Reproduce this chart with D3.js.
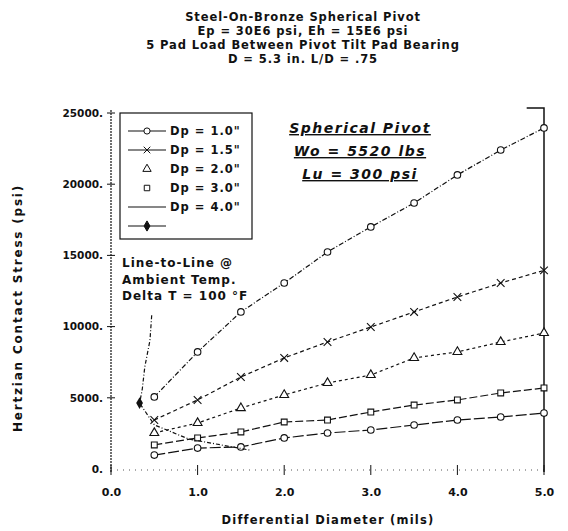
<!DOCTYPE html>
<html>
<head>
<meta charset="utf-8">
<script src="https://cdn.jsdelivr.net/npm/d3@7"></script>
<style>
	body { margin: 0; background: #fff; }
	svg { font-family: 'DejaVu Sans', Arial, sans-serif; }
</style>
</head>
<body>
<svg id="chart"></svg>
<script>
// ========== DATA ==========
var diffDiameter = [0.5, 1.0, 1.5, 2.0, 2.5, 3.0, 3.5, 4.0, 4.5, 5.0];
var stressDp10 = [5060, 8220, 11030, 13060, 15240, 17000, 18680, 20650, 22400, 23950];
var stressDp15 = [3440, 4850, 6460, 7800, 8920, 9970, 11030, 12080, 13060, 13950];
var stressDp20 = [2530, 3230, 4280, 5200, 6040, 6600, 7800, 8220, 8920, 9550];
var stressDp30 = [1690, 2180, 2600, 3300, 3440, 4000, 4490, 4850, 5340, 5690];
var stressDp40 = [980, 1470, 1550, 2180, 2530, 2740, 3090, 3440, 3650, 3930];
var lineToLineX = [0.47, 0.45, 0.39, 0.36, 0.33, 0.5, 0.9, 1.6];
var lineToLineY = [10800, 9040, 7160, 5550, 4630, 3100, 2100, 1330];
var legendLabels = ['Dp = 1.0"', 'Dp = 1.5"', 'Dp = 2.0"', 'Dp = 3.0"', 'Dp = 4.0"', ''];
var yTicks = [0, 5000, 10000, 15000, 20000, 25000];
var xTicks = [0, 1, 2, 3, 4, 5];
var titleLines = [
	'Steel-On-Bronze Spherical Pivot',
	'Ep = 30E6 psi, Eh = 15E6 psi',
	'5 Pad Load Between Pivot Tilt Pad Bearing',
	'D = 5.3 in. L/D = .75'
];
var noteLines = ['Spherical Pivot', 'Wo = 5520 lbs', 'Lu = 300 psi'];
var lineNote = ['Line-to-Line @', 'Ambient Temp.', 'Delta T = 100 °F'];

// ========== CHART ==========
var width = 568, height = 531;
var ink = '#111';
var font = "'DejaVu Sans', Arial, sans-serif";
var symbolTimes = d3.symbolTimes || d3.symbolX;

var svg = d3.select('#chart')
	.attr('width', width)
	.attr('height', height);

var x = d3.scaleLinear().domain([0, 5]).range([111, 544]);
var y = d3.scaleLinear().domain([0, 25000]).range([469, 113]);

// title
svg.selectAll('.title')
	.data(titleLines).enter().append('text')
		.attr('class', 'title')
		.attr('x', 303)
		.attr('y', function(d, i) { return 21 + i * 14; })
		.attr('text-anchor', 'middle')
		.attr('font-size', 11.5)
		.attr('letter-spacing', 0.9)
		.attr('font-weight', 'bold')
		.attr('fill', ink)
		.text(function(d) { return d; });

// left axis
var yAxis = svg.append('g')
	.attr('transform', 'translate(111,0)')
	.call(d3.axisLeft(y).tickValues(yTicks).tickSize(0).tickPadding(8)
		.tickFormat(function(d) { return d + '.'; }));
yAxis.select('.domain').remove();
yAxis.selectAll('text')
	.attr('font-size', 10.5)
	.attr('font-weight', 'bold')
	.attr('fill', ink)
	.attr('font-family', font);
svg.append('line')
	.attr('x1', 111).attr('x2', 111)
	.attr('y1', 110).attr('y2', 472)
	.attr('stroke', ink).attr('stroke-width', 1.2)
	.style('stroke-dasharray', '2,1');
svg.selectAll('.ytick')
	.data(yTicks.slice(1)).enter().append('line')
		.attr('class', 'ytick')
		.attr('x1', 107).attr('x2', 115)
		.attr('y1', function(d) { return y(d); })
		.attr('y2', function(d) { return y(d); })
		.attr('stroke', ink);

// bottom axis
var xAxis = svg.append('g')
	.attr('transform', 'translate(0,470)')
	.call(d3.axisBottom(x).tickValues(xTicks).tickSize(0).tickPadding(18)
		.tickFormat(d3.format('.1f')));
xAxis.select('.domain').remove();
xAxis.selectAll('text')
	.attr('font-size', 11)
	.attr('font-weight', 'bold')
	.attr('fill', ink)
	.attr('font-family', font);
svg.append('line')
	.attr('x1', x(0)).attr('x2', x(5))
	.attr('y1', 470).attr('y2', 470)
	.attr('stroke', '#555').attr('stroke-width', 1)
	.style('stroke-dasharray', '1,5');
svg.selectAll('.xtick')
	.data(xTicks).enter().append('line')
		.attr('class', 'xtick')
		.attr('x1', function(d) { return x(d); })
		.attr('x2', function(d) { return x(d); })
		.attr('y1', 465).attr('y2', 475)
		.attr('stroke', ink);

// right frame
svg.append('path')
	.attr('d', d3.line()([[x(4.8), 108], [x(5), 108], [x(5), 472]]))
	.attr('fill', 'none')
	.attr('stroke', ink).attr('stroke-width', 1.5);

// axis titles
svg.append('text')
	.attr('transform', 'translate(22,308)rotate(-90)')
	.attr('text-anchor', 'middle')
	.attr('font-size', 12)
	.attr('letter-spacing', 1.8)
	.attr('font-weight', 'bold')
	.attr('fill', ink)
	.text('Hertzian Contact Stress (psi)');
svg.append('text')
	.attr('x', 328).attr('y', 524)
	.attr('text-anchor', 'middle')
	.attr('font-size', 11.5)
	.attr('letter-spacing', 1.2)
	.attr('font-weight', 'bold')
	.attr('fill', ink)
	.text('Differential Diameter (mils)');

// series
var series = [
	{ values: stressDp10, dash: '5,2,1,2', symbol: d3.symbolCircle },
	{ values: stressDp15, dash: '4,3', symbol: symbolTimes },
	{ values: stressDp20, dash: '3,3', symbol: d3.symbolTriangle },
	{ values: stressDp30, dash: '8,3', symbol: d3.symbolSquare },
	{ values: stressDp40, dash: '11,3', symbol: d3.symbolCircle }
];

var line = d3.line()
	.x(function(d) { return x(d[0]); })
	.y(function(d) { return y(d[1]); });

series.forEach(function(s) {
	var pts = diffDiameter.map(function(d, i) { return [d, s.values[i]]; });
	svg.append('path')
		.attr('d', line(pts))
		.attr('fill', 'none')
		.attr('stroke', ink)
		.attr('stroke-width', 1.2)
		.style('stroke-dasharray', s.dash);
	svg.selectAll(null)
		.data(pts).enter().append('path')
			.attr('d', d3.symbol().type(s.symbol).size(s.symbol === symbolTimes ? 40 : 34))
			.attr('transform', function(d) {
				return 'translate(' + x(d[0]) + ',' + y(d[1]) + ')';
			})
			.attr('fill', s.symbol === symbolTimes ? 'none' : '#fff')
			.attr('stroke', ink)
			.attr('stroke-width', 1.1);
});

// line-to-line curve
var ltl = lineToLineX.map(function(d, i) { return [d, lineToLineY[i]]; });
svg.append('path')
	.attr('d', line(ltl))
	.attr('fill', 'none')
	.attr('stroke', ink)
	.attr('stroke-width', 1.2)
	.style('stroke-dasharray', '4,2,1,2');
svg.append('path')
	.attr('d', d3.symbol().type(d3.symbolDiamond).size(40))
	.attr('transform', 'translate(' + x(lineToLineX[4]) + ',' + y(lineToLineY[4]) + ')')
	.attr('fill', ink);

// legend
var legend = svg.append('g');
legend.append('rect')
	.attr('x', 120).attr('y', 113)
	.attr('width', 132).attr('height', 126)
	.attr('fill', '#fff')
	.attr('stroke', ink).attr('stroke-width', 1.2);

var legendSymbols = [d3.symbolCircle, symbolTimes, d3.symbolTriangle, d3.symbolSquare, null, d3.symbolDiamond];
var legendHasLine = [true, true, false, false, true, true];

legendLabels.forEach(function(label, i) {
	var ly = 131 + i * 19;
	if (legendHasLine[i]) {
		legend.append('line')
			.attr('x1', 128).attr('x2', 166)
			.attr('y1', ly).attr('y2', ly)
			.attr('stroke', ink).attr('stroke-width', 1.2);
	}
	if (legendSymbols[i]) {
		legend.append('path')
			.attr('d', d3.symbol().type(legendSymbols[i]).size(30))
			.attr('transform', 'translate(147,' + ly + ')')
			.attr('fill', i === 5 ? ink : (i === 1 ? 'none' : '#fff'))
			.attr('stroke', ink);
	}
	legend.append('text')
		.attr('x', 170).attr('y', ly + 4)
		.attr('font-size', 11.5)
		.attr('letter-spacing', 1)
		.attr('font-weight', 'bold')
		.attr('fill', ink)
		.text(label);
});

// line-to-line note
svg.selectAll('.ltlnote')
	.data(lineNote).enter().append('text')
		.attr('class', 'ltlnote')
		.attr('x', 122)
		.attr('y', function(d, i) { return 267 + i * 16.5; })
		.attr('font-size', 12)
		.attr('letter-spacing', 1)
		.attr('font-weight', 'bold')
		.attr('fill', ink)
		.text(function(d) { return d; });

// pivot note
svg.selectAll('.note')
	.data(noteLines).enter().append('text')
		.attr('class', 'note')
		.attr('x', 360)
		.attr('y', function(d, i) { return 133 + i * 23; })
		.attr('text-anchor', 'middle')
		.attr('font-size', 14)
		.attr('letter-spacing', 1.5)
		.attr('font-weight', 'bold')
		.attr('font-style', 'italic')
		.attr('text-decoration', 'underline')
		.attr('fill', ink)
		.text(function(d) { return d; });
</script>
</body>
</html>
